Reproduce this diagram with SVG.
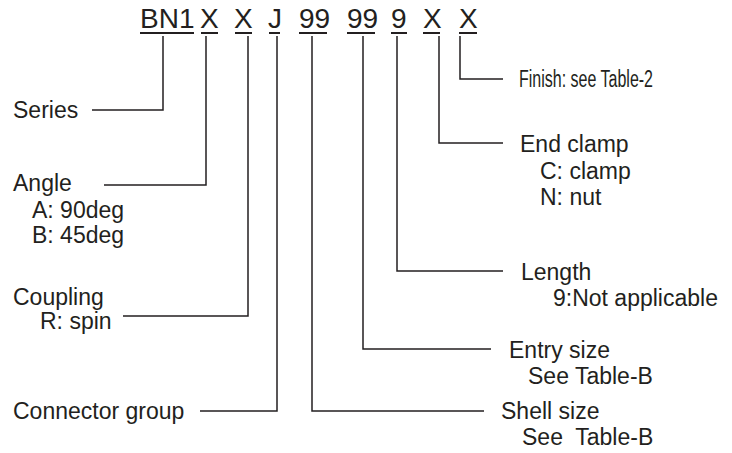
<svg xmlns="http://www.w3.org/2000/svg" width="732" height="453" viewBox="0 0 732 453">
<style>
text{font-family:"Liberation Sans",Arial,sans-serif;fill:#231f20}
.code{font-size:28px}
.lbl{font-size:23px;white-space:pre}
.ul{fill:#231f20}
.con{fill:none;stroke:#231f20;stroke-width:1.5}
</style>
<rect width="732" height="453" fill="#fff"/>
<g id="code">
<text class="code" x="140" y="28">BN1</text>
<text class="code" x="200" y="28">X</text>
<text class="code" x="234" y="28">X</text>
<text class="code" x="268" y="28">J</text>
<text class="code" x="299" y="28">99</text>
<text class="code" x="347" y="28">99</text>
<text class="code" x="391" y="28">9</text>
<text class="code" x="423" y="28">X</text>
<text class="code" x="459" y="28">X</text>
<rect class="ul" x="140" y="32" width="54" height="2"/>
<rect class="ul" x="201" y="32" width="17" height="2"/>
<rect class="ul" x="235" y="32" width="17" height="2"/>
<rect class="ul" x="269" y="32" width="11" height="2"/>
<rect class="ul" x="299" y="32" width="28" height="2"/>
<rect class="ul" x="347" y="32" width="28" height="2"/>
<rect class="ul" x="391" y="32" width="16" height="2"/>
<rect class="ul" x="423" y="32" width="17" height="2"/>
<rect class="ul" x="459" y="32" width="18" height="2"/>
</g>
<g id="connectors">
<polyline class="con" points="163,36 163,110 92,110"/>
<polyline class="con" points="206,36 206,185 104,185"/>
<polyline class="con" points="248,36 248,316 123,316"/>
<polyline class="con" points="277,36 277,411 200,411"/>
<polyline class="con" points="312,36 312,411 484,411"/>
<polyline class="con" points="363,36 363,349 491,349"/>
<polyline class="con" points="397,36 397,271 503,271"/>
<polyline class="con" points="439,36 439,143 503,143"/>
<polyline class="con" points="460,36 460,79 503,79"/>
</g>
<g id="series"><text class="lbl" x="13" y="118">Series</text></g>
<g id="angle">
<text class="lbl" x="13" y="191">Angle</text>
<text class="lbl" x="32" y="218">A: 90deg</text>
<text class="lbl" x="32" y="243">B: 45deg</text>
</g>
<g id="coupling">
<text class="lbl" x="13" y="305">Coupling</text>
<text class="lbl" x="40" y="329">R: spin</text>
</g>
<g id="connector-group"><text class="lbl" x="13" y="419">Connector group</text></g>
<g id="shell-size">
<text class="lbl" x="501" y="419">Shell size</text>
<text class="lbl" x="522" y="445">See  Table-B</text>
</g>
<g id="entry-size">
<text class="lbl" x="509" y="358">Entry size</text>
<text class="lbl" x="528" y="384">See Table-B</text>
</g>
<g id="length">
<text class="lbl" x="521" y="280">Length</text>
<text class="lbl" x="553" y="306">9:Not applicable</text>
</g>
<g id="end-clamp">
<text class="lbl" x="520" y="152">End clamp</text>
<text class="lbl" x="540" y="179">C: clamp</text>
<text class="lbl" x="540" y="205">N: nut</text>
</g>
<g id="finish"><text class="lbl" x="519" y="87" textLength="134" lengthAdjust="spacingAndGlyphs">Finish: see Table-2</text></g>
</svg>
